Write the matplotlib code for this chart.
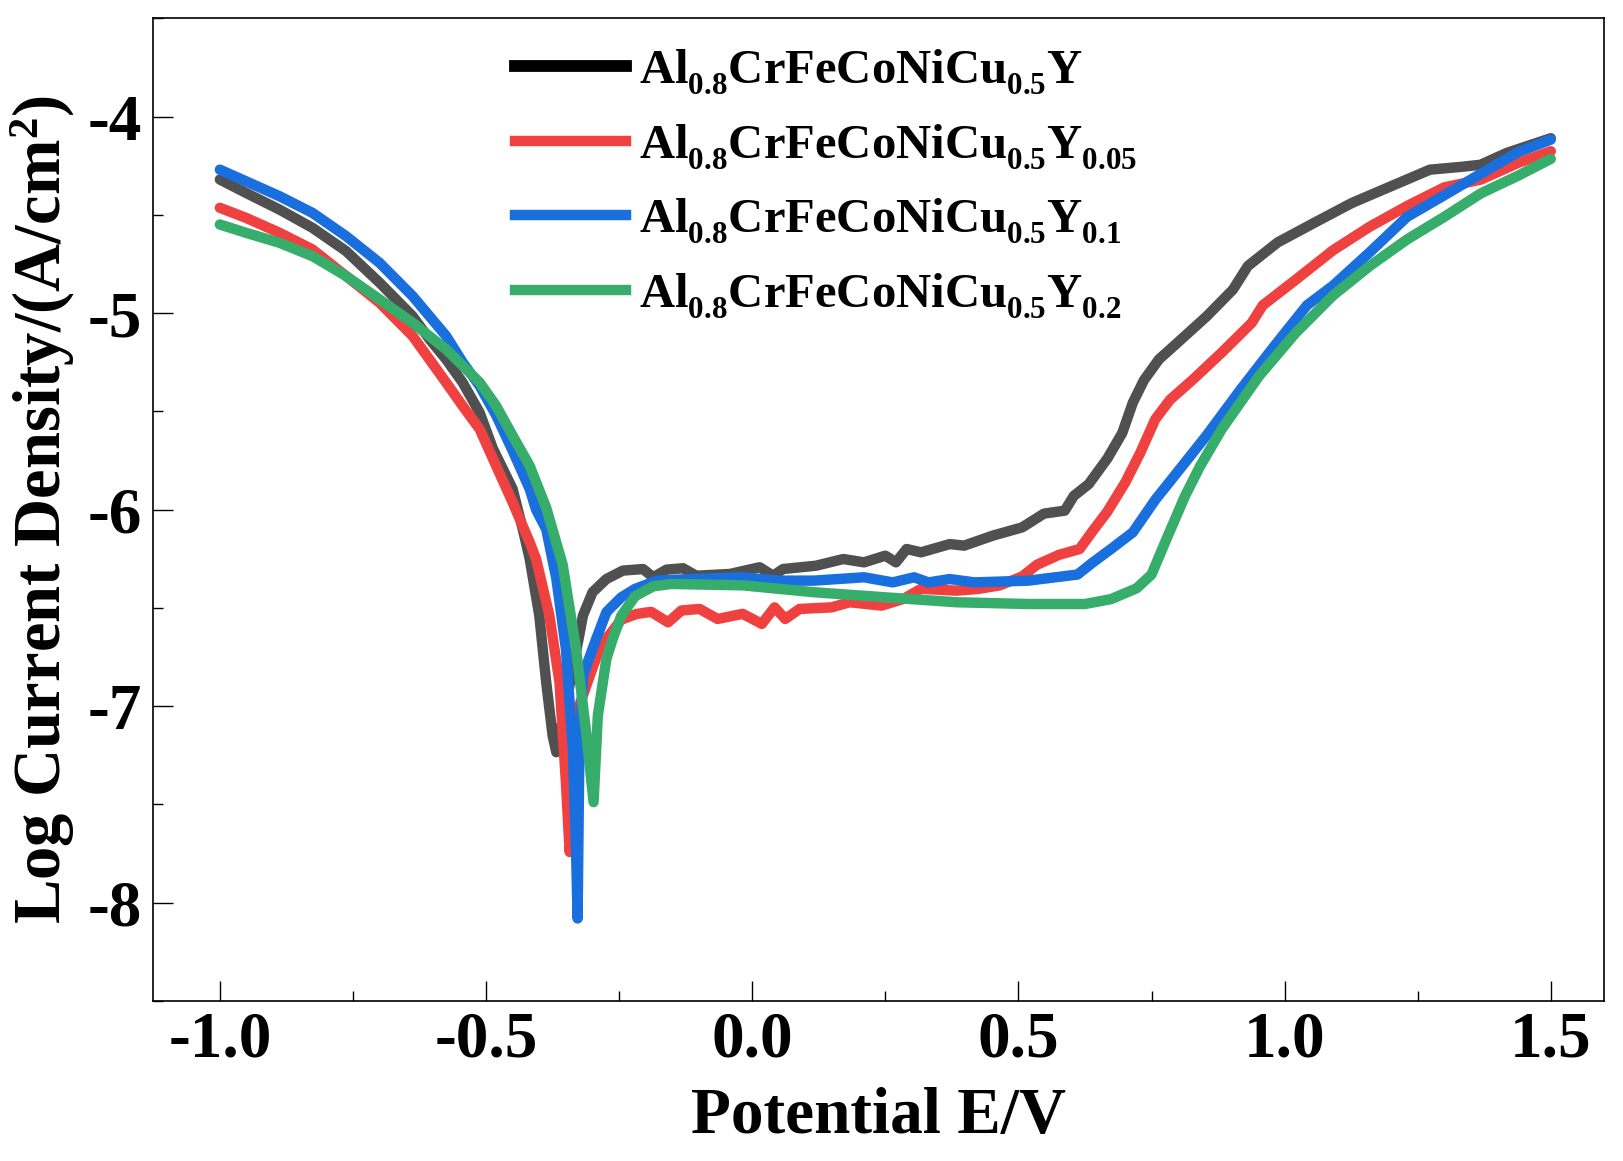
import matplotlib
matplotlib.use("Agg")
import matplotlib.pyplot as plt
import matplotlib._mathtext as mtext
from matplotlib.lines import Line2D
from matplotlib.ticker import MultipleLocator, FormatStrFormatter

plt.rcParams['font.family'] = ['Liberation Serif', 'DejaVu Serif']
plt.rcParams['font.weight'] = 'bold'
plt.rcParams['mathtext.fontset'] = 'custom'
plt.rcParams['mathtext.rm'] = 'Liberation Serif:bold'
plt.rcParams['mathtext.bf'] = 'Liberation Serif:bold'
plt.rcParams['mathtext.it'] = 'Liberation Serif:bold:italic'
plt.rcParams['axes.unicode_minus'] = False

# subscripts sit lower and a bit smaller in the original figure
mtext.FontConstantsBase.sub1 = 0.5
mtext.SHRINK_FACTOR = 0.64

y0_E = [-1.000, -0.951, -0.888, -0.826, -0.763, -0.700, -0.638, -0.606, -0.575, -0.544,
        -0.512, -0.487, -0.450, -0.431, -0.418, -0.400, -0.387, -0.375, -0.368, -0.325,
        -0.318, -0.300, -0.274, -0.243, -0.205, -0.186, -0.161, -0.130, -0.105, -0.042,
        0.014, 0.039, 0.058, 0.120, 0.171, 0.210, 0.250, 0.270, 0.290, 0.317,
        0.371, 0.398, 0.452, 0.507, 0.548, 0.587, 0.604, 0.632, 0.667, 0.695,
        0.715, 0.736, 0.764, 0.799, 0.854, 0.903, 0.931, 0.987, 1.056, 1.126,
        1.195, 1.273, 1.334, 1.368, 1.418, 1.500]
y0_L = [-4.320, -4.388, -4.473, -4.566, -4.684, -4.845, -5.015, -5.133, -5.235, -5.353,
        -5.506, -5.690, -5.895, -6.099, -6.250, -6.539, -6.878, -7.149, -7.234, -6.641,
        -6.539, -6.420, -6.353, -6.310, -6.302, -6.344, -6.305, -6.298, -6.336, -6.327,
        -6.293, -6.336, -6.302, -6.285, -6.251, -6.268, -6.234, -6.268, -6.200, -6.217,
        -6.175, -6.183, -6.132, -6.090, -6.020, -6.005, -5.930, -5.870, -5.740, -5.610,
        -5.455, -5.340, -5.235, -5.150, -5.015, -4.880, -4.760, -4.640, -4.540, -4.440,
        -4.360, -4.270, -4.255, -4.245, -4.184, -4.110]

y005_E = [-1.000, -0.951, -0.888, -0.826, -0.763, -0.700, -0.638, -0.575, -0.544, -0.512,
          -0.481, -0.450, -0.418, -0.406, -0.381, -0.362, -0.350, -0.343, -0.327, -0.305,
          -0.287, -0.274, -0.246, -0.218, -0.190, -0.158, -0.133, -0.099, -0.065, -0.018,
          0.018, 0.042, 0.062, 0.089, 0.149, 0.183, 0.243, 0.284, 0.317, 0.384,
          0.425, 0.465, 0.507, 0.535, 0.576, 0.615, 0.639, 0.667, 0.701, 0.729,
          0.757, 0.785, 0.827, 0.882, 0.938, 0.959, 1.021, 1.091, 1.160, 1.230,
          1.300, 1.369, 1.439, 1.500]
y005_L = [-4.464, -4.515, -4.591, -4.676, -4.811, -4.947, -5.116, -5.353, -5.472, -5.590,
          -5.777, -5.963, -6.166, -6.251, -6.539, -6.878, -7.386, -7.742, -7.013, -6.844,
          -6.708, -6.657, -6.560, -6.531, -6.520, -6.573, -6.513, -6.505, -6.556, -6.530,
          -6.581, -6.497, -6.556, -6.505, -6.497, -6.471, -6.488, -6.454, -6.403, -6.412,
          -6.403, -6.385, -6.340, -6.280, -6.230, -6.200, -6.110, -6.010, -5.860, -5.710,
          -5.540, -5.440, -5.340, -5.200, -5.050, -4.960, -4.830, -4.680, -4.560, -4.455,
          -4.360, -4.320, -4.235, -4.176]

y01_E = [-1.000, -0.951, -0.888, -0.826, -0.763, -0.700, -0.638, -0.575, -0.544, -0.512,
         -0.481, -0.450, -0.418, -0.406, -0.387, -0.368, -0.350, -0.337, -0.331, -0.328,
         -0.325, -0.318, -0.309, -0.293, -0.274, -0.268, -0.246, -0.220, -0.179, -0.119,
         -0.018, 0.049, 0.116, 0.210, 0.264, 0.304, 0.331, 0.371, 0.418, 0.519,
         0.611, 0.639, 0.674, 0.715, 0.757, 0.813, 0.854, 0.917, 0.980, 1.042,
         1.091, 1.160, 1.230, 1.300, 1.369, 1.439, 1.500]
y01_L = [-4.270, -4.329, -4.405, -4.490, -4.608, -4.744, -4.913, -5.116, -5.250, -5.370,
         -5.520, -5.700, -5.895, -6.000, -6.099, -6.350, -6.708, -7.216, -7.725, -8.080,
         -7.300, -6.850, -6.776, -6.657, -6.522, -6.505, -6.446, -6.403, -6.361, -6.353,
         -6.344, -6.361, -6.361, -6.344, -6.370, -6.344, -6.370, -6.353, -6.370, -6.361,
         -6.330, -6.270, -6.200, -6.115, -5.950, -5.760, -5.620, -5.390, -5.170, -4.960,
         -4.860, -4.690, -4.510, -4.400, -4.290, -4.180, -4.117]

y02_E = [-1.000, -0.951, -0.888, -0.826, -0.763, -0.700, -0.638, -0.575, -0.512, -0.481,
         -0.450, -0.418, -0.387, -0.356, -0.331, -0.312, -0.298, -0.290, -0.274, -0.262,
         -0.246, -0.220, -0.186, -0.152, -0.018, 0.116, 0.250, 0.384, 0.519, 0.625,
         0.674, 0.722, 0.750, 0.778, 0.813, 0.841, 0.882, 0.952, 1.021, 1.091,
         1.160, 1.230, 1.300, 1.369, 1.439, 1.500]
y02_L = [-4.549, -4.591, -4.642, -4.710, -4.811, -4.930, -5.049, -5.184, -5.353, -5.472,
         -5.624, -5.777, -5.990, -6.280, -6.708, -7.132, -7.488, -7.047, -6.760, -6.657,
         -6.540, -6.440, -6.390, -6.378, -6.385, -6.420, -6.446, -6.471, -6.480, -6.480,
         -6.455, -6.400, -6.330, -6.150, -5.930, -5.780, -5.590, -5.320, -5.100, -4.910,
         -4.760, -4.625, -4.510, -4.390, -4.300, -4.215]

labels = [r'$\mathbf{Al_{0.8}CrFeCoNiCu_{0.5}Y}$',
          r'$\mathbf{Al_{0.8}CrFeCoNiCu_{0.5}Y_{0.05}}$',
          r'$\mathbf{Al_{0.8}CrFeCoNiCu_{0.5}Y_{0.1}}$',
          r'$\mathbf{Al_{0.8}CrFeCoNiCu_{0.5}Y_{0.2}}$']
colors = ['#505050', '#f04141', '#1a6fdf', '#37ad6b']
series = [(y0_E, y0_L), (y005_E, y005_L), (y01_E, y01_L), (y02_E, y02_L)]

fig = plt.figure(figsize=(16.24, 11.61), dpi=100)
ax = fig.add_axes([0.0944, 0.1378, 0.8933, 0.8464])

for (E, L), c in zip(series, colors):
    ax.plot(E, L, color=c, lw=7.5, solid_joinstyle='round', solid_capstyle='round')

ax.set_xlim(-1.125, 1.6)
ax.set_ylim(-8.5, -3.5)
ax.xaxis.set_major_locator(MultipleLocator(0.5))
ax.xaxis.set_minor_locator(MultipleLocator(0.25))
ax.yaxis.set_major_locator(MultipleLocator(1))
ax.yaxis.set_minor_locator(MultipleLocator(0.5))
ax.xaxis.set_major_formatter(FormatStrFormatter('%.1f'))
ax.yaxis.set_major_formatter(FormatStrFormatter('%d'))
ax.tick_params(which='both', direction='in', top=False, right=False, width=1)
ax.tick_params(which='major', length=14.4, labelsize=47, pad=8)
ax.tick_params(which='minor', length=7.2)
ax.tick_params(axis='x', which='major', pad=7)
for s in ax.spines.values():
    s.set_linewidth(1.2)

ax.set_xlabel('Potential E/V', fontsize=47, fontweight='bold', labelpad=12)
ax.set_ylabel(r'Log Current Density/(A/cm$^\mathbf{2}$)', fontsize=48,
              fontweight='bold', labelpad=8)

handles = [Line2D([], [], color='black', lw=8.5)] + \
          [Line2D([], [], color=c, lw=7.5) for c in colors[1:]]
ax.legend(handles, labels, loc='upper left', bbox_to_anchor=(0.249, 0.971),
          frameon=False, fontsize=35, handlelength=2.3, handletextpad=0.27,
          labelspacing=0.53, borderpad=0, borderaxespad=0)

fig.savefig('out.png', dpi=100)
